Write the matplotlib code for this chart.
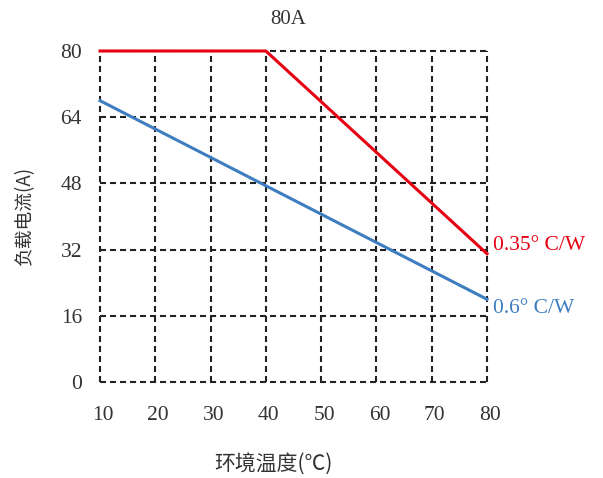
import matplotlib
matplotlib.use("Agg")
import matplotlib.pyplot as plt
import matplotlib.transforms as mtransforms

temps = [10, 20, 30, 40, 50, 60, 70, 80]
red_x = [10, 40, 80]
red_y = [80, 80, 31]
blue_x = [10, 80]
blue_y = [68, 20]
yticks = [0, 16, 32, 48, 64, 80]
red_label = "0.35° C/W"
blue_label = "0.6° C/W"
title = "80A"
xlabel = "环境温度(℃)"
ylabel = "负载电流(A)"

RED = "#E60012"
BLUE = "#3D7DC0"
TXT = "#333333"
num_font = ["Liberation Serif", "Noto Sans CJK SC"]
cjk_font = ["Noto Sans CJK SC", "DejaVu Sans"]

fig = plt.figure(figsize=(6.03, 4.78), dpi=100)
ax = fig.add_axes([100/603, 1-382/478, 387/603, 331/478])
ax.set_xlim(10, 80)
ax.set_ylim(0, 80)
for s in ax.spines.values():
    s.set_visible(False)

dash = (0, (2.9, 1.9))
ax.vlines(temps, 0, 80, colors="#222222", linestyles=dash, linewidth=1.5, clip_on=False, zorder=1)
ax.hlines(yticks, 10, 80, colors="#222222", linestyles=dash, linewidth=1.5, clip_on=False, zorder=1)

ax.plot(red_x, red_y, color=RED, lw=2.2, clip_on=False, zorder=3)
ax.plot(blue_x, blue_y, color=BLUE, lw=2.2, clip_on=False, zorder=3)

ax.set_xticks(temps)
ax.set_yticks(yticks)
ax.tick_params(length=0, pad=13, labelsize=15.5, colors=TXT)
ax.tick_params(axis="x", pad=17.5)
for lab in ax.get_xticklabels() + ax.get_yticklabels():
    lab.set_family(num_font)
offset = mtransforms.ScaledTranslation(3/100, 0, fig.dpi_scale_trans)
for lab in ax.get_xticklabels():
    lab.set_transform(lab.get_transform() + offset)

ax.text(81.0, red_y[-1] + 0.9, red_label, color=RED, fontsize=15.5, family=num_font, va="baseline", ha="left")
ax.text(81.0, blue_y[-1] - 3.3, blue_label, color=BLUE, fontsize=15.5, family=num_font, va="baseline", ha="left")

fig.text(288/603, 1-19/478, title, ha="center", va="center", fontsize=15, family=num_font, color=TXT)
fig.text(273/603, 1-464/478, xlabel, ha="center", va="center", fontsize=15, family=cjk_font, color=TXT)
fig.text(25/603, 1-215/478, ylabel, ha="center", va="center", rotation=90, fontsize=13.5, family=cjk_font, color=TXT)

fig.savefig("out.png", dpi=100)
